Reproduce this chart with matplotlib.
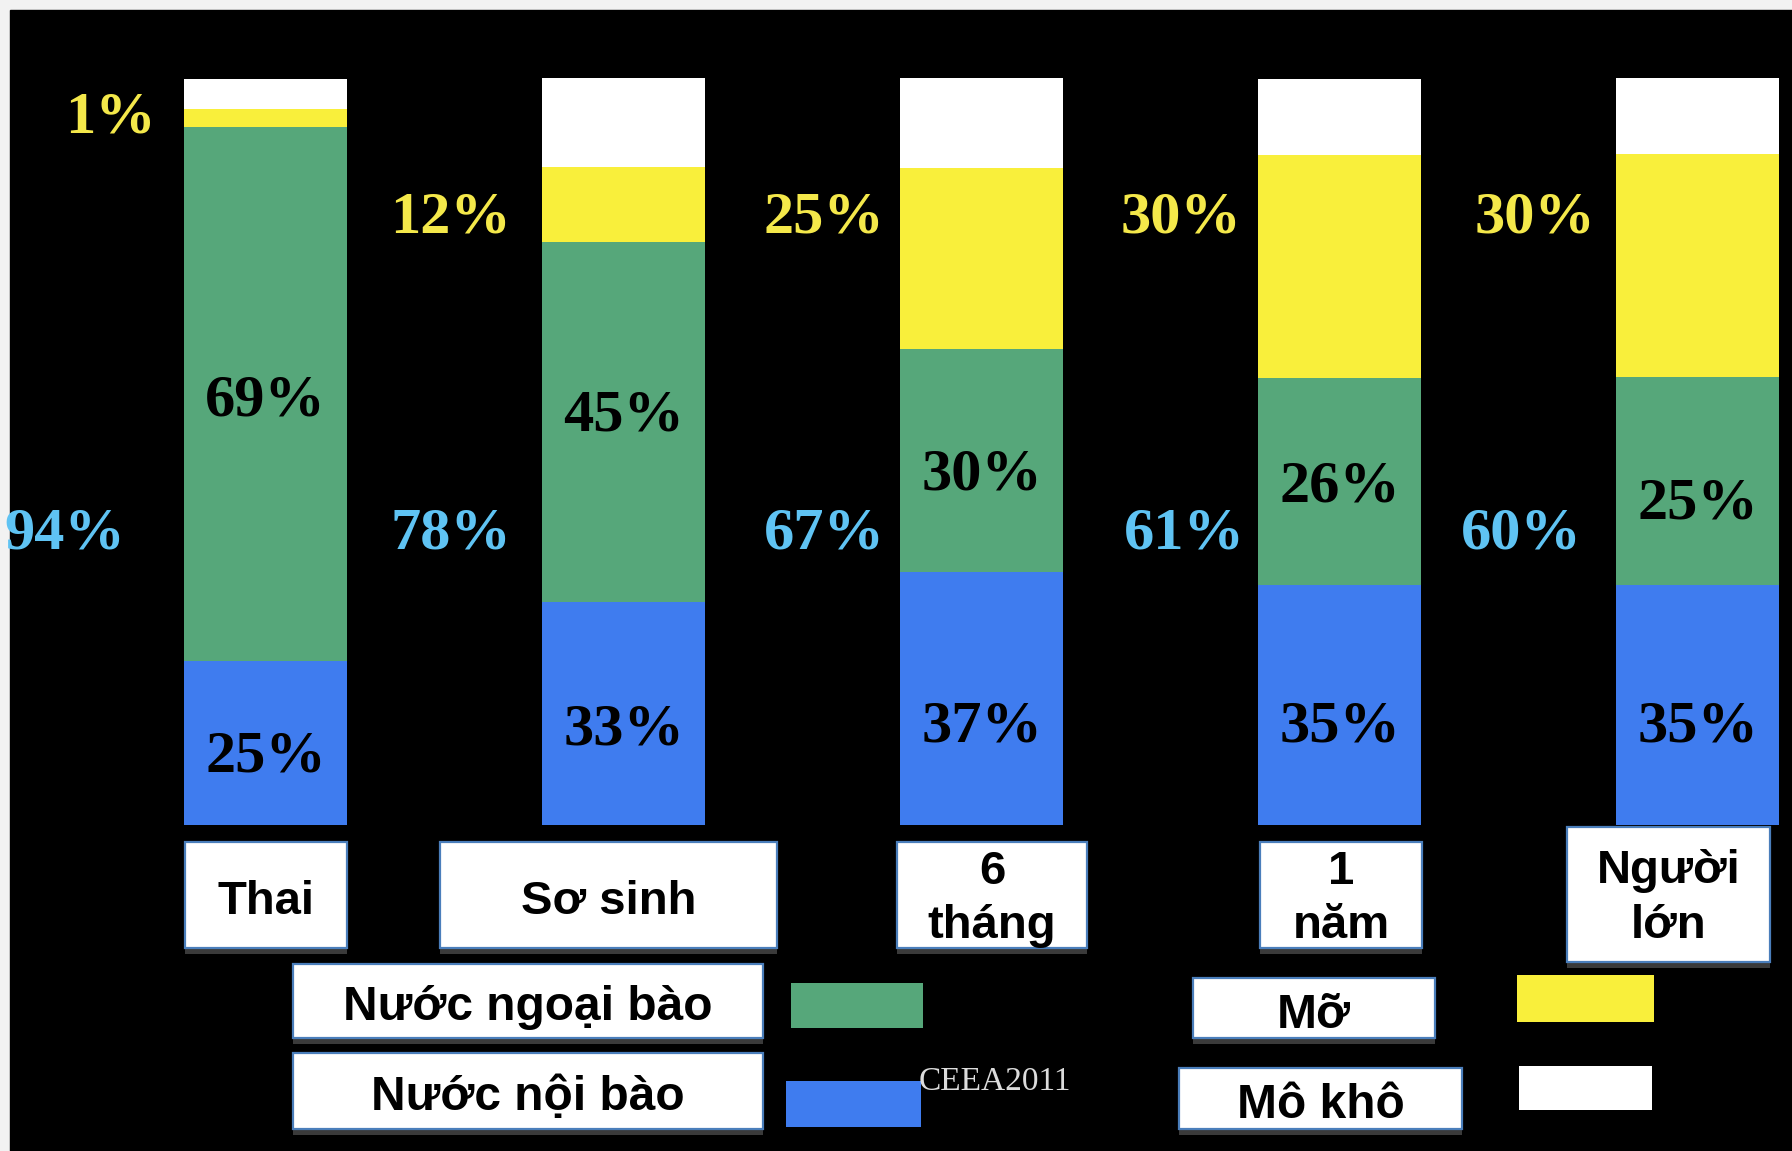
import matplotlib
matplotlib.use("Agg")
import matplotlib.pyplot as plt
from matplotlib.patches import Rectangle
import numpy as np

# ---------------- data ----------------
categories = ["Thai", "Sơ sinh", "6\ntháng", "1\nnăm", "Người\nlớn"]
# segment heights as drawn (% of bar height)
icw = [22.0, 29.9, 33.9, 32.1, 32.2]   # Nước nội bào (blue)
ecw = [71.5, 48.2, 29.9, 27.8, 27.8]   # Nước ngoại bào (green)
fat = [2.4, 10.0, 24.2, 29.9, 29.9]    # Mỡ (yellow)
dry = [4.0, 11.9, 12.0, 10.1, 10.1]    # Mô khô (white)
# printed percentage labels
icw_labels = [25, 33, 37, 35, 35]
ecw_labels = [69, 45, 30, 26, 25]
fat_labels = [1, 12, 25, 30, 30]
water_labels = [94, 78, 67, 61, 60]
legend_names = ["Nước ngoại bào", "Nước nội bào", "Mỡ", "Mô khô"]
source_note = "CEEA2011"

# ---------------- style ----------------
C_BLUE = "#3F7CEF"
C_GREEN = "#56A77A"
C_YELLOW = "#F9EF3B"
C_WHITE = "#FFFFFF"
C_TXT_YEL = "#F4E84A"
C_TXT_BLU = "#5FC3F3"
BOX_EDGE = "#4A7EBB"
SERIF = ["Liberation Serif", "DejaVu Serif"]
SANS = ["Liberation Sans", "DejaVu Sans"]

W, H = 1792, 1151
fig = plt.figure(figsize=(W / 100, H / 100), dpi=100, facecolor="#f2f2f2")
fig.patches.append(Rectangle((10 / W, 0), 1 - 10 / W, 1 - 10 / H,
                             transform=fig.transFigure, color="black", zorder=-5))

ax = fig.add_axes([0, 0, 1, 1])
ax.set_zorder(1)
ax.set_facecolor("none")
ax.axis("off")
step = 358.0          # px between bar centres
first = 265.6         # px of first bar centre
base_px = 825.0       # px of bar bottom
ppu = 7.465           # px per percent
ax.set_xlim(-first / step, (W - first) / step)
ax.set_ylim(-(H - base_px) / ppu, base_px / ppu)

x = np.arange(len(categories))
width = 162.5 / step
series = [(icw, C_BLUE), (ecw, C_GREEN), (fat, C_YELLOW), (dry, C_WHITE)]
bottom = np.zeros(len(x))
bottoms = []
for vals, col in series:
    ax.bar(x, vals, width, bottom=bottom, color=col, edgecolor="none", zorder=2)
    bottoms.append(bottom.copy())
    bottom = bottom + np.array(vals)

FS = 43.5
# inside labels: centred in their segment, nudged down by a few px
icw_dy_px = [15, 17.6, 29.5, 22.8, 22.8]
ecw_dy_px = [8, -5, 14.7, 6.3, 24.1]
for i in x:
    b_icw, b_ecw = bottoms[0][i], bottoms[1][i]
    ax.text(i, b_icw + icw[i] / 2 - icw_dy_px[i] / ppu, f"{icw_labels[i]}%",
            ha="center", va="center", fontsize=FS, fontweight="bold",
            family=SERIF, color="black", zorder=3)
    ax.text(i, b_ecw + ecw[i] / 2 - ecw_dy_px[i] / ppu, f"{ecw_labels[i]}%",
            ha="center", va="center", fontsize=FS, fontweight="bold",
            family=SERIF, color="black", zorder=3)

# outside labels (right-aligned to the left of each bar)
fat_label_y = [94.6, 81.2, 81.2, 81.2, 81.2]
fat_gap = [29, 31, 16, 17, 21]
water_label_y = 38.85
water_gap = [59, 31, 16, 14, 35]
for i in x:
    left = i - width / 2
    ax.annotate(f"{fat_labels[i]}%", xy=(left, fat_label_y[i]),
                xytext=(-fat_gap[i] * 0.72, 0), textcoords="offset points",
                ha="right", va="center", fontsize=FS, fontweight="bold",
                family=SERIF, color=C_TXT_YEL, zorder=3)
    ax.annotate(f"{water_labels[i]}%", xy=(left, water_label_y),
                xytext=(-water_gap[i] * 0.72, 0), textcoords="offset points",
                ha="right", va="center", fontsize=FS, fontweight="bold",
                family=SERIF, color=C_TXT_BLU, zorder=3)


def fr(px, py):
    return px / W, 1 - py / H


def box(x0, y0, x1, y1, text, fs=33, dy=7):
    fig.patches.append(Rectangle(fr(x0, y1 + 6), (x1 - x0) / W, (y1 - y0) / H,
                                 transform=fig.transFigure, facecolor="#3a3a3a",
                                 edgecolor="none", zorder=4))
    fig.patches.append(Rectangle(fr(x0, y1), (x1 - x0) / W, (y1 - y0) / H,
                                 transform=fig.transFigure, facecolor="white",
                                 edgecolor=BOX_EDGE, linewidth=1.6, zorder=5))
    cx, cy = fr((x0 + x1) / 2, (y0 + y1) / 2 + dy)
    fig.text(cx, cy, text, ha="center", va="center", fontsize=fs,
             fontweight="bold", family=SANS, color="black", linespacing=1.32,
             zorder=6)


def swatch(x0, y0, x1, y1, color):
    fig.patches.append(Rectangle(fr(x0, y1), (x1 - x0) / W, (y1 - y0) / H,
                                 transform=fig.transFigure, facecolor=color,
                                 edgecolor="none", zorder=4))


# category label boxes
cat_boxes = [(185, 842, 347, 948), (440, 842, 777, 948), (897, 842, 1087, 948),
             (1260, 842, 1422, 948), (1567, 827, 1770, 962)]
for (bx0, by0, bx1, by1), name in zip(cat_boxes, categories):
    box(bx0, by0, bx1, by1, name, fs=34, dy=7 if "\n" not in name else 4)

# legend
leg_boxes = [(293, 964, 763, 1038), (293, 1053, 763, 1129),
             (1193, 978, 1435, 1038), (1179, 1068, 1462, 1129)]
leg_swatches = [(791, 983, 923, 1028), (786, 1081, 921, 1127),
                (1517, 975, 1654, 1022), (1519, 1066, 1652, 1110)]
leg_colors = [C_GREEN, C_BLUE, C_YELLOW, C_WHITE]
for (bx0, by0, bx1, by1), name in zip(leg_boxes, legend_names):
    box(bx0, by0, bx1, by1, name, fs=34.5, dy=7)
for (sx0, sy0, sx1, sy1), col in zip(leg_swatches, leg_colors):
    swatch(sx0, sy0, sx1, sy1, col)

tx, ty = fr(919, 1067)
fig.text(tx, ty, source_note, ha="left", va="top", fontsize=24,
         family=SERIF, color="#dcdcdc", zorder=7)

fig.savefig("out.png", dpi=100, facecolor=fig.get_facecolor())
